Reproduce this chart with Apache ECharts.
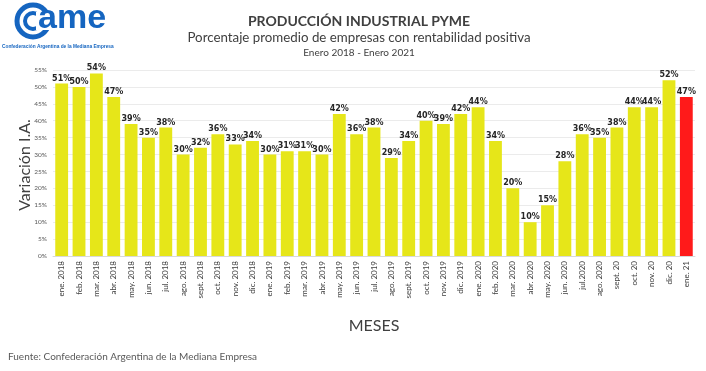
<!DOCTYPE html>
<html><head><meta charset="utf-8">
<script src="https://cdn.jsdelivr.net/npm/echarts@6/dist/echarts.min.js"></script>
<style>html,body{margin:0;padding:0;background:#fff}#c{width:706px;height:371px}</style>
</head><body><div id="c"></div>
<script>
const categories = ["ene. 2018","feb. 2018","mar. 2018","abr. 2018","may. 2018","jun. 2018","jul. 2018","ago. 2018","sept. 2018","oct. 2018","nov. 2018","dic. 2018","ene. 2019","feb. 2019","mar. 2019","abr. 2019","may. 2019","jun. 2019","jul. 2019","ago. 2019","sept. 2019","oct. 2019","nov. 2019","dic. 2019","ene. 2020","feb. 2020","mar. 2020","abr. 2020","may. 2020","jun. 2020","jul.2020","ago. 2020","sept. 20","oct. 20","nov. 20","dic. 20","ene. 21"];
const values = [51,50,54,47,39,35,38,30,32,36,33,34,30,31,31,30,42,36,38,29,34,40,39,42,44,34,20,10,15,28,36,35,38,44,44,52,47];
const highlightIndex = 36;
const FONT = "Lato";
const BLUE = '#1565c0';
const chart = echarts.init(document.getElementById('c'));
chart.setOption({
  animation: false,
  textStyle: {fontFamily: FONT},
  title: [
    {text: 'PRODUCCIÓN INDUSTRIAL PYME', left: 354, top: 9, textAlign: 'center', textStyle: {fontSize: 14, fontWeight: 'bold', color: '#404040', fontFamily: FONT}},
    {text: 'Porcentaje promedio de empresas con rentabilidad positiva', left: 354, top: 26, textAlign: 'center', textStyle: {fontSize: 13.3, fontWeight: 'normal', color: '#404040', fontFamily: FONT}},
    {text: 'Enero 2018 - Enero 2021', left: 354, top: 43, textAlign: 'center', textStyle: {fontSize: 10, fontWeight: 'normal', color: '#404040', fontFamily: FONT}}
  ],
  graphic: [
    {type: 'circle', shape: {cx: 33, cy: 21, r: 16}, style: {fill: 'none', stroke: BLUE, lineWidth: 5}},
    {type: 'circle', shape: {cx: 33, cy: 21, r: 8}, style: {fill: 'none', stroke: BLUE, lineWidth: 4}},
    {type: 'rect', shape: {x: 36, y: 12, width: 16, height: 18}, style: {fill: '#fff'}},
    {type: 'text', left: 38, top: 2, style: {text: 'ame', fontSize: 34, fontWeight: 'bold', fill: BLUE, fontFamily: 'Liberation Sans', letterSpacing: -2}},
    {type: 'text', left: 2, top: 44, style: {text: 'Confederación Argentina de la Mediana Empresa', fontSize: 4.8, fontWeight: 'bold', fill: BLUE, fontFamily: 'Liberation Sans'}},
    {type: 'text', left: 8, top: 352, style: {text: 'Fuente: Confederación Argentina de la Mediana Empresa', fontSize: 10, fill: '#595959', fontFamily: FONT}},
    {type: 'text', x: 25, y: 165, rotation: Math.PI / 2, style: {text: 'Variación I.A.', fontSize: 16, fill: '#404040', fontFamily: FONT, align: 'center', verticalAlign: 'middle'}}
  ],
  grid: {left: 53, right: 11, top: 70, bottom: 115, containLabel: false},
  xAxis: {
    type: 'category', data: categories,
    name: 'MESES', nameLocation: 'middle', nameGap: 62,
    nameTextStyle: {fontSize: 16, color: '#404040', fontFamily: FONT},
    axisLine: {show: true, lineStyle: {color: '#d9d9d9'}},
    axisTick: {show: false},
    axisLabel: {rotate: 90, interval: 0, fontSize: 8, color: '#404040', margin: 5, fontFamily: FONT}
  },
  yAxis: {
    type: 'value', min: 0, max: 55, interval: 5,
    axisLine: {show: false}, axisTick: {show: false},
    splitLine: {lineStyle: {color: '#ebebeb'}},
    axisLabel: {formatter: '{value}%', fontSize: 6.5, color: '#595959', margin: 6, fontFamily: FONT}
  },
  series: [{
    type: 'bar', barCategoryGap: '26%',
    data: values.map((v, i) => ({value: v, itemStyle: {color: i === highlightIndex ? '#ff1a1a' : '#e6e619'}})),
    label: {show: true, position: 'top', formatter: '{c}%', fontSize: 8, fontWeight: 'bold', color: '#262626', distance: 1, fontFamily: 'DejaVu Sans'}
  }]
});
</script></body></html>
